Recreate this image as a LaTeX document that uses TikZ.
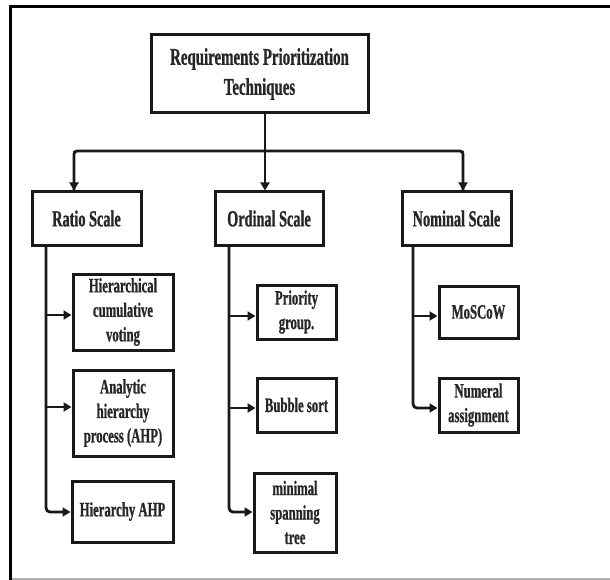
\documentclass[tikz,border=0pt]{standalone}
\usepackage{fontspec}
\setmainfont[FakeStretch=0.62,BoldFeatures={FakeBold=0.8}]{Liberation Serif}
\usetikzlibrary{arrows.meta,calc}
\begin{document}
\begin{tikzpicture}[x=1pt,y=-1pt,
  box/.style={draw=black!90,line width=3pt,align=center,inner sep=1pt,text=black!85,
    font=\bfseries\fontsize{20.5}{24.5}\selectfont},
  scalebox/.style={box,minimum width=109pt,minimum height=53pt,
    font=\bfseries\fontsize{23}{26}\selectfont},
  conn/.style={draw=black!90,line width=2.8pt,rounded corners=4pt},
  arr/.style={conn,-{Triangle[length=8pt,width=9pt]}}]
\useasboundingbox (0,0) rectangle (610,580);
% outer frame
\draw[line width=3pt] (10,580) -- (10,6.5) -- (610,6.5);
\draw[gray!60,line width=1.5pt] (11.5,579) -- (610,579);

\node[box,minimum width=217pt,minimum height=78pt,
  font=\bfseries\fontsize{24}{30}\selectfont] (top) at (259.5,74) {Requirements Prioritization\\Techniques};

\node[scalebox] (ratio) at (86.5,218.5) {Ratio Scale};
\node[scalebox,minimum width=108pt] (ordinal) at (269,218.5) {Ordinal Scale};
\node[scalebox] (nominal) at (456.5,218.5) {Nominal Scale};

\node[box,minimum width=100pt,minimum height=76pt] (hcv) at (123,312) {Hierarchical\\cumulative\\voting};
\node[box,minimum width=100pt,minimum height=86pt] (ahp) at (123,413) {Analytic\\hierarchy\\process (AHP)};
\node[box,minimum width=101pt,minimum height=61pt] (hahp) at (122.5,511.5) {Hierarchy AHP};

\node[box,minimum width=79pt,minimum height=54pt] (pg) at (296.5,312) {Priority\\group.};
\node[box,minimum width=79pt,minimum height=54pt] (bs) at (296.5,405) {Bubble sort};
\node[box,minimum width=82pt,minimum height=79pt] (mst) at (295,512.5) {minimal\\spanning\\tree};

\node[box,minimum width=79pt,minimum height=52pt] (moscow) at (478.5,312) {MoSCoW};
\node[box,minimum width=79pt,minimum height=54pt] (num) at (478.5,405) {Numeral\\assignment};

% top connectors
\coordinate (jm) at (265,151);
\coordinate (jl) at (74,151);
\coordinate (jr) at (463,151);
\draw[conn,rounded corners=0pt] (jm |- top.south) -- (jm);
\draw[conn,rounded corners=3pt] (jl |- ratio.north) -- (jl) -- (jr) -- (jr |- nominal.north);
\draw[arr] (jl) -- (jl |- ratio.north);
\draw[arr] (jm) -- (jm |- ordinal.north);
\draw[arr] (jr) -- (jr |- nominal.north);

% branch x positions
\coordinate (rx) at (46,0);
\coordinate (ox) at (229,0);
\coordinate (nx) at (413,0);

% arrow entry points
\coordinate (hcvin) at ($(hcv.west)+(0,3)$);
\coordinate (ahpin) at ($(ahp.west)+(0,-6)$);
\coordinate (hahpin) at ($(hahp.west)+(0,0.5)$);
\coordinate (pgin) at ($(pg.west)+(0,4)$);
\coordinate (bsin) at ($(bs.west)+(0,3)$);
\coordinate (mstin) at ($(mst.west)+(0,-0.5)$);
\coordinate (moin) at ($(moscow.west)+(0,4)$);
\coordinate (numin) at ($(num.west)+(0,3)$);

% ratio branch
\draw[arr] (rx |- ratio.south) -- (rx |- hahpin) -- (hahpin);
\draw[arr,rounded corners=0pt] (rx |- hcvin) -- (hcvin);
\draw[arr,rounded corners=0pt] (rx |- ahpin) -- (ahpin);

% ordinal branch
\draw[arr] (ox |- ordinal.south) -- (ox |- mstin) -- (mstin);
\draw[arr,rounded corners=0pt] (ox |- pgin) -- (pgin);
\draw[arr,rounded corners=0pt] (ox |- bsin) -- (bsin);

% nominal branch
\draw[arr] (nx |- nominal.south) -- (nx |- numin) -- (numin);
\draw[arr,rounded corners=0pt] (nx |- moin) -- (moin);
\end{tikzpicture}
\end{document}
